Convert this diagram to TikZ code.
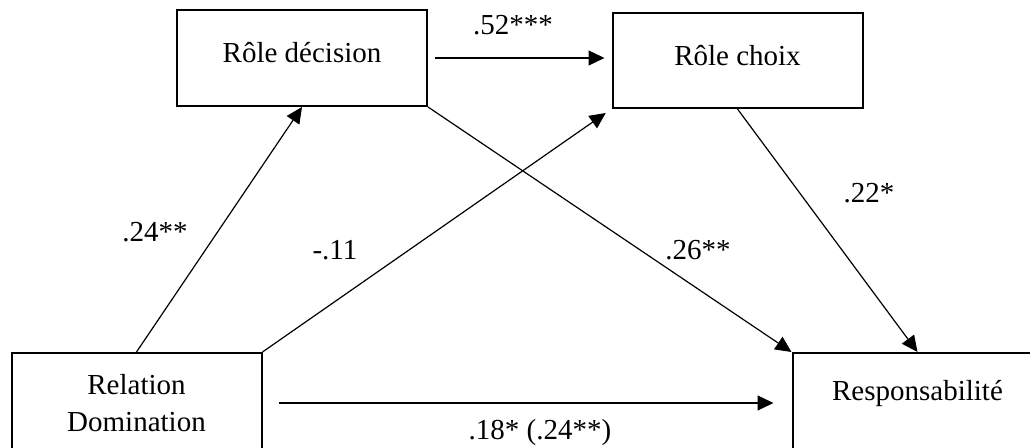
\documentclass[tikz,border=0pt]{standalone}
\usepackage{fontspec}
\setmainfont{Liberation Serif}
\usetikzlibrary{arrows.meta}
\begin{document}
\begin{tikzpicture}[x=0.5pt, y=-0.5pt, font=\fontsize{14.5}{18.5}\selectfont, >={Triangle[length=8pt,width=7.5pt]}]
        \tikzset{box/.style={draw, line width=1pt, minimum width=125pt, align=center, inner sep=0pt},
                 arr/.style={->, line width=0.6pt}}
        \useasboundingbox (0,0) rectangle (1030,448);
        \node[box, minimum height=48pt, text depth=6pt] (decision) at (302,58) {Rôle décision};
        \node[box, minimum height=47.5pt, text depth=5pt] (choix) at (737.5,60.5) {Rôle choix};
        \node[box, minimum height=50pt] (domination) at (136.5,403) {Relation\\Domination};
        \node[box, minimum height=50pt, text depth=13pt] (resp) at (917.5,403) {Responsabilité};
        \draw[arr, shorten <=3.5pt, shorten >=3.5pt] (decision.east) -- (decision.east -| choix.west);
        \draw[arr] (domination.north) -- (decision.south);
        \draw[arr, shorten >=3.5pt] (domination.north east) -- (choix.south west);
        \draw[arr] (decision.south east) -- (resp.north west);
        \draw[arr] (choix.south) -- (resp.north);
        \draw[arr, shorten <=8pt, shorten >=9pt] (domination.east) -- (domination.east -| resp.west);
        \node (l52) at (513,25) {.52***};
        \node (l24) at (155,232) {.24**};
        \node (l11) at (335,250) {-.11};
        \node (l26) at (698,250) {.26**};
        \node (l22) at (869,193) {.22*};
        \node (l18) at (540,433) {.18* (.24**)};
    \end{tikzpicture}
\end{document}
